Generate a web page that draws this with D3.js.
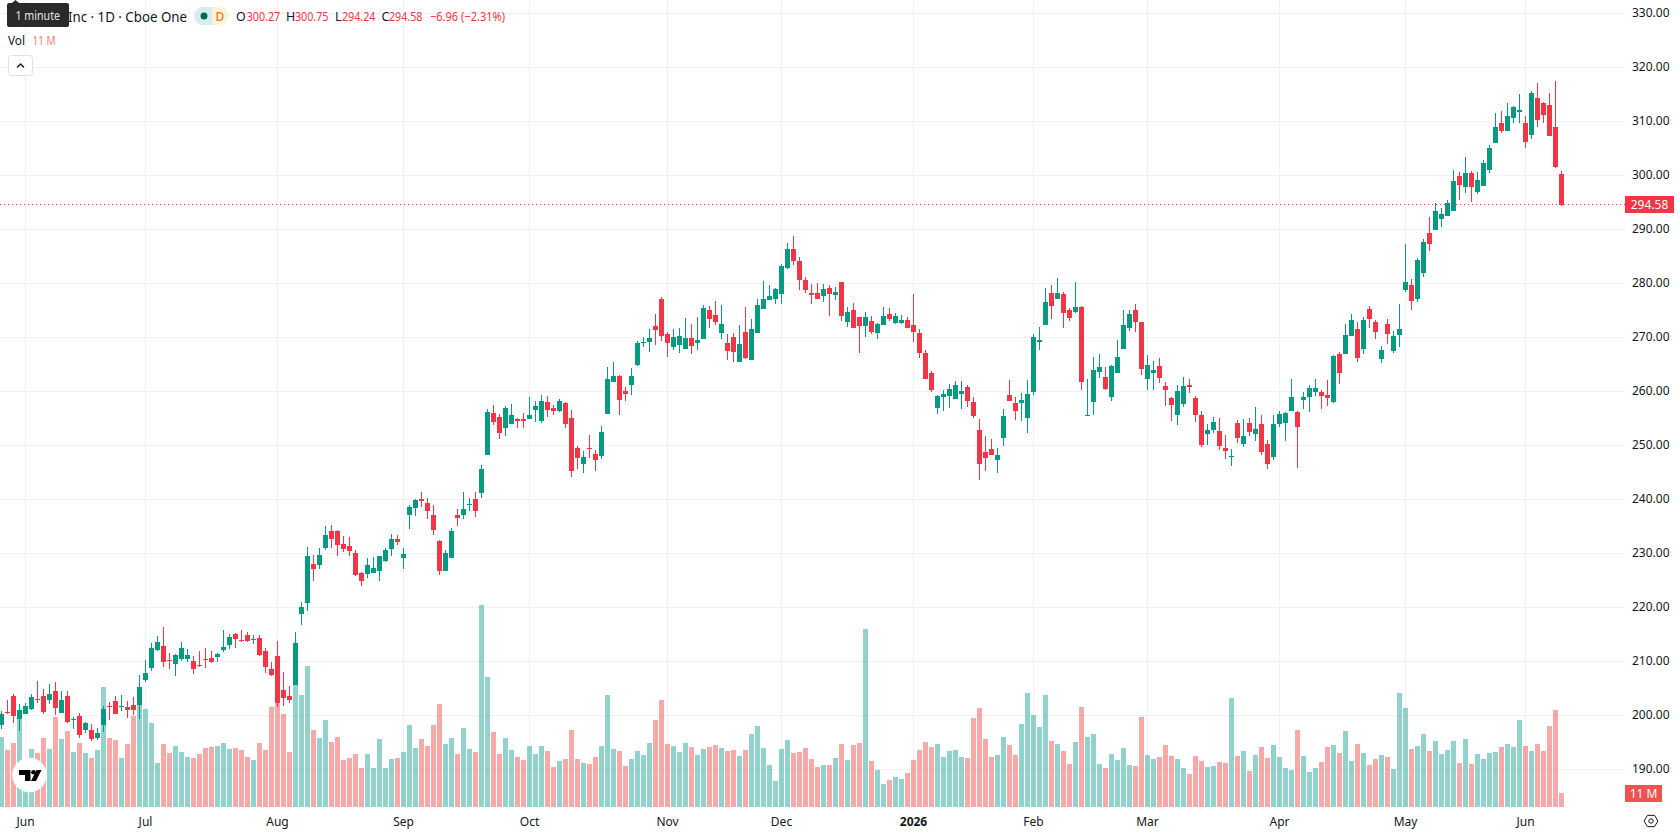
<!DOCTYPE html>
<html>
<head>
<meta charset="utf-8">
<title>1D candles with volume</title>
<script src="https://cdn.jsdelivr.net/npm/d3@7/dist/d3.min.js"></script>
<style>
  html, body { margin: 0; padding: 0; background: #fff; overflow: hidden; }
  svg { display: block; }
  text { font-family: "Noto Sans", "Open Sans", sans-serif; }
</style>
</head>
<body>
<svg id="chart" width="1678" height="835"></svg>
<script>
// Daily sessions, oldest first
const opens = [
198.2,200.7,203.6,199.4,200.2,201.2,203.1,203.6,202.8,204.5,
200.4,203.6,199.1,199.9,197.3,197.3,195.8,198.2,201.7,202.7,
201.5,201.5,201.9,201.9,206.5,208.8,212.1,212.8,210.2,209.5,
210.4,210.4,210.1,209.3,210.4,210.6,210.8,212.1,213.0,215.1,
214.0,214.9,214.0,214.3,211.9,208.6,211.0,204.7,203.6,205.6,
218.8,220.8,228.0,227.8,231.0,234.1,234.1,231.7,231.4,230.1,
226.4,226.2,226.4,226.7,228.6,230.8,232.7,229.1,237.1,238.4,
240.1,239.3,237.1,232.3,226.7,229.1,237.1,237.1,239.0,240.1,
241.2,248.2,256.0,255.2,253.2,254.0,254.9,254.9,254.9,256.5,
254.5,258.0,256.9,256.4,257.8,255.1,249.5,246.5,249.5,248.4,
248.0,255.8,261.7,262.8,260.0,261.2,264.9,268.9,269.2,272.1,
277.1,270.6,268.2,268.6,267.8,269.9,268.9,269.7,275.1,274.1,
270.8,268.9,270.0,265.4,271.0,265.8,270.8,275.2,276.9,277.1,
278.0,282.8,286.4,284.1,280.6,278.2,278.2,277.7,279.1,277.8,
280.2,272.8,275.1,273.8,272.1,273.0,270.8,272.3,274.3,272.7,
272.7,273.2,272.3,270.8,267.1,263.4,256.9,258.9,259.1,258.6,
259.5,260.8,258.0,252.8,248.7,249.3,247.3,251.3,259.3,257.8,
257.8,255.0,259.9,269.1,272.3,278.2,277.1,278.0,275.0,274.7,
275.6,255.6,258.0,263.6,262.6,258.9,263.4,267.8,271.7,275.0,
272.8,262.3,263.4,264.7,261.0,258.7,255.6,257.6,261.2,258.7,
255.6,252.1,252.8,252.6,249.5,247.8,254.1,250.2,254.1,252.1,
254.0,250.3,247.9,254.0,254.1,256.4,256.2,258.4,259.0,259.9,
259.9,259.3,258.0,266.9,266.9,270.3,271.6,267.9,275.3,272.9,
266.0,272.5,267.5,270.4,278.8,279.7,277.0,281.9,289.3,289.9,
291.9,292.5,293.4,299.9,297.8,300.4,296.9,298.0,301.0,306.0,
309.7,308.2,310.6,311.7,309.7,307.5,314.3,313.4,313.0,309.0,
300.27];
const highs = [
200.8,202.8,204.0,202.1,202.2,204.0,206.4,204.9,205.8,206.2,
204.5,204.5,199.7,200.4,198.8,198.4,197.7,201.7,202.5,203.6,
203.8,202.7,203.4,207.5,210.2,213.4,214.7,216.4,211.5,211.4,
213.6,212.3,211.0,211.9,212.5,211.9,211.5,215.8,215.1,215.2,
215.8,215.4,214.9,214.9,212.5,209.9,213.8,208.0,205.4,215.4,
221.0,231.2,229.7,231.0,235.1,235.2,234.3,233.2,233.0,230.6,
226.5,229.1,229.3,229.5,231.0,233.6,233.4,231.0,239.0,240.1,
241.4,240.2,239.0,232.5,230.6,234.7,238.2,241.4,240.2,241.4,
246.4,256.7,257.5,255.8,257.3,257.7,255.1,256.0,258.9,258.2,
259.3,259.1,257.5,258.6,258.0,256.5,249.9,249.0,251.9,249.1,
253.6,264.5,265.4,263.0,260.8,264.3,269.3,270.0,271.5,274.3,
277.5,271.0,271.5,271.7,273.6,272.5,273.8,276.0,275.8,276.7,
276.0,270.6,270.8,272.3,275.6,273.4,277.1,280.4,279.7,279.1,
283.6,287.5,288.8,284.9,281.2,279.9,280.0,279.9,279.7,279.3,
280.2,275.6,276.3,273.8,274.7,274.0,272.7,275.6,275.4,274.5,
274.1,273.8,278.0,271.5,267.6,263.8,259.3,260.2,261.3,261.9,
261.9,261.2,258.9,254.9,251.7,251.2,249.5,256.7,262.1,258.9,
259.7,262.1,270.6,271.9,279.1,279.7,281.0,278.4,275.4,280.2,
275.8,262.3,266.3,266.9,264.5,264.9,269.5,275.0,275.0,276.2,
272.8,266.7,265.6,266.2,261.7,258.9,261.2,262.6,262.3,259.1,
256.3,253.9,255.2,255.0,251.9,249.3,254.7,254.9,255.0,257.1,
255.6,251.0,255.6,256.4,256.2,262.3,256.4,259.9,261.2,262.3,
260.2,262.1,266.7,267.3,272.5,274.3,272.9,273.8,275.8,273.2,
268.4,273.4,271.2,276.2,287.3,280.8,284.7,288.2,292.3,294.9,
294.0,295.4,301.0,300.6,303.4,300.8,300.6,302.8,305.6,311.5,
311.9,313.4,312.8,315.0,311.0,315.6,317.1,313.6,315.3,317.5,
300.75];
const lows = [
197.5,200.2,198.6,197.0,200.2,201.0,202.3,200.2,202.1,200.1,
200.4,198.6,197.5,195.8,196.7,195.2,195.4,196.9,199.1,200.2,
200.8,199.5,200.1,199.3,206.2,208.2,211.9,209.0,208.6,207.3,
210.1,209.9,207.7,209.0,208.8,209.7,209.9,211.7,212.3,212.5,
213.6,213.6,213.2,211.0,207.8,207.3,201.5,201.7,202.3,205.6,
216.7,219.3,224.9,227.1,230.6,231.0,229.5,230.2,229.5,225.8,
224.0,225.4,226.4,224.9,228.4,229.5,231.5,227.1,234.5,236.9,
238.6,236.4,233.4,226.0,226.7,229.1,235.1,236.4,237.8,236.7,
240.2,248.2,253.8,251.2,251.7,254.0,253.2,253.2,254.9,254.3,
254.1,255.2,255.6,256.2,253.2,244.1,245.6,244.9,247.7,245.2,
247.5,255.8,261.7,255.6,258.2,259.3,264.7,268.2,267.3,268.6,
269.3,266.4,267.6,267.1,267.8,266.9,267.6,269.7,271.7,272.3,
269.7,265.8,265.4,265.4,266.0,265.8,270.8,275.2,276.9,276.2,
276.2,282.6,283.4,278.8,278.2,276.2,277.1,276.5,274.0,276.9,
273.0,271.9,271.7,267.1,270.0,270.6,269.7,272.3,273.0,272.5,
272.5,271.7,269.1,266.2,262.3,259.9,255.8,256.3,256.9,258.6,
256.7,257.1,255.0,243.6,245.2,248.2,244.9,249.9,258.2,254.7,
254.5,252.3,259.3,267.7,272.3,273.4,277.1,271.7,273.0,274.5,
260.2,255.6,255.6,262.5,260.2,258.2,263.4,267.8,271.2,271.0,
263.0,260.2,260.2,261.5,257.3,254.5,253.8,257.1,259.7,254.3,
249.7,250.0,252.3,249.1,247.5,246.2,250.4,249.7,251.7,250.8,
248.2,245.6,247.3,253.4,250.8,256.4,245.8,256.7,256.2,259.1,
256.7,257.3,257.9,261.4,266.9,270.3,265.4,266.9,271.7,269.7,
265.3,268.8,267.1,268.2,278.4,275.1,276.6,281.2,286.0,289.9,
290.4,292.5,293.4,295.4,296.7,295.0,296.5,298.0,300.4,306.0,
307.8,308.2,309.7,309.7,305.1,306.7,309.0,309.7,307.3,301.4,
294.24];
const closes = [
200.2,200.4,199.9,201.0,201.7,203.4,202.8,200.6,204.0,201.4,
202.8,198.8,199.4,196.4,198.6,195.6,196.7,201.2,201.5,200.2,
201.7,201.0,201.0,205.2,207.8,212.5,213.6,209.9,210.1,211.2,
212.5,211.2,208.6,209.1,210.2,209.9,211.4,212.7,214.5,214.1,
213.8,213.8,214.1,211.2,209.0,207.5,202.3,203.2,202.8,213.4,
220.1,229.5,227.1,229.7,233.4,232.7,231.5,230.8,230.4,226.0,
224.9,227.8,227.3,229.5,230.6,232.7,232.1,229.9,238.6,239.9,
239.7,237.8,234.3,226.7,230.1,234.1,236.5,238.2,239.1,237.8,
245.6,256.2,254.3,252.3,256.9,255.6,254.5,254.5,255.6,257.3,
258.2,256.5,256.4,258.2,254.0,245.2,247.7,247.8,249.3,247.3,
252.5,262.3,262.8,258.4,259.5,262.8,268.9,269.2,269.9,271.4,
270.2,268.9,270.0,270.2,269.9,268.4,269.5,275.4,273.4,272.8,
272.5,267.5,267.3,268.8,266.2,271.5,276.0,277.1,277.7,278.9,
283.2,286.4,284.1,280.6,278.8,277.8,277.1,278.9,278.0,278.4,
274.0,274.7,271.7,272.1,273.8,271.0,272.5,274.0,273.4,274.0,
273.2,271.7,271.0,267.1,262.3,260.2,259.1,259.5,260.4,261.2,
260.0,258.2,255.4,246.5,247.6,248.2,248.2,255.4,258.2,256.3,
258.4,259.5,270.0,269.5,276.5,275.8,278.2,274.5,273.6,275.6,
261.7,255.6,263.9,264.5,260.4,264.7,266.3,272.3,274.3,272.8,
264.1,264.9,263.9,262.5,260.2,257.5,260.0,261.0,260.8,255.6,
250.0,252.8,254.3,249.9,249.0,248.0,251.3,251.7,252.5,253.0,
248.8,246.6,254.0,255.8,256.0,259.0,253.4,259.0,260.6,260.6,
259.1,258.8,266.5,263.4,270.4,273.2,266.2,273.2,273.4,271.0,
267.7,270.6,270.3,271.6,280.3,276.8,284.3,287.7,287.3,293.4,
292.9,294.9,299.0,298.2,300.4,297.8,299.1,302.3,305.1,309.0,
308.2,311.0,312.6,312.1,306.2,315.3,310.2,311.2,307.3,301.5,
294.58];
// Share volume per session, in millions
const volumes = [
56.0,45.3,50.9,70.7,32.0,46.1,42.9,54.9,46.1,71.7,
54.1,60.5,43.7,50.9,42.9,38.9,45.3,95.7,54.9,53.3,
38.9,50.1,72.5,81.3,78.1,66.9,34.9,50.1,42.9,48.5,
43.7,39.7,38.9,42.1,46.9,47.7,48.5,50.9,46.1,46.9,
45.3,39.7,37.3,50.9,45.3,79.7,82.9,74.1,43.7,97.3,
89.3,112.5,61.3,54.9,69.3,51.7,55.7,37.3,38.9,42.1,
30.9,42.1,30.9,54.1,30.9,38.1,38.9,43.7,65.3,46.9,
54.1,48.5,65.3,82.1,50.1,54.9,42.1,62.9,46.1,43.7,
161.3,103.7,59.7,42.1,54.9,45.3,39.7,37.3,48.5,42.1,
48.5,44.5,31.7,36.5,38.1,61.3,38.1,34.9,34.1,39.7,
48.5,89.3,46.1,44.5,32.5,38.1,44.5,41.3,50.9,69.3,
85.3,50.1,48.5,43.7,50.9,47.7,41.3,46.1,47.7,49.3,
46.9,44.5,45.3,40.5,45.3,58.1,64.5,46.9,33.3,20.5,
46.1,53.3,42.9,43.7,46.9,38.1,31.7,33.3,33.3,38.9,
50.1,37.3,49.3,50.9,142.1,36.5,29.3,18.1,21.3,23.7,
22.1,26.9,37.3,45.3,51.7,47.7,50.1,39.7,44.5,45.3,
39.7,38.9,70.9,78.9,54.1,39.7,41.3,55.7,49.3,41.3,
66.1,90.9,73.3,63.7,89.3,52.5,50.1,44.5,34.1,51.7,
79.7,55.7,58.1,34.1,30.9,42.1,37.3,46.9,33.3,32.5,
71.7,41.3,38.1,39.7,49.3,40.5,38.1,30.9,26.1,40.5,
36.5,31.7,32.5,35.7,34.9,86.9,40.5,44.5,28.5,41.3,
47.7,38.9,49.3,39.7,30.9,29.3,61.3,40.5,27.7,30.9,
35.7,47.7,49.3,42.9,60.5,36.5,50.1,42.9,33.3,38.1,
41.3,39.7,30.1,90.9,78.9,46.1,48.5,58.1,44.5,52.5,
42.1,45.3,52.5,34.9,54.1,34.1,42.1,38.1,42.9,43.7,
47.7,50.1,47.7,69.3,48.5,44.5,50.1,44.5,64.5,77.3,
11];

// Month boundaries on the time axis, as session numbers
const timeTickSessions = [4, 24, 46, 67, 88, 111, 130, 152, 172, 191, 213, 234, 254];
const timeTickLabels = ["Jun", "Jul", "Aug", "Sep", "Oct", "Nov", "Dec", "2026", "Feb", "Mar", "Apr", "May", "Jun"];
const priceTicks = [190, 200, 210, 220, 230, 240, 250, 260, 270, 280, 290, 300, 310, 320, 330];

// Legend readings
const legendPrefix = "Inc · 1D · Cboe One";
const lastChange = "−6.96 (−2.31%)";
const lastPrice = closes[closes.length - 1];
const lastVolume = volumes[volumes.length - 1];

const UP = "#089981", DOWN = "#f23645";
const VOL_UP = "rgba(38,166,154,0.5)", VOL_DOWN = "rgba(239,83,80,0.5)";
const GRID = "#f1f1f3", INK = "#131722";
const paneRight = 1624.5, paneBottom = 807;

const x = d3.scaleLinear().domain([0, opens.length - 1]).range([1.5, 1561.5]);
const y = d3.scaleLinear().domain([190, 330]).range([769.3, 13.3]);
const yVol = d3.scaleLinear().domain([0, 160]).range([806.7, 606.7]);

const sessions = d3.range(opens.length).map(i => ({
  i, o: opens[i], h: highs[i], l: lows[i], c: closes[i], v: volumes[i], up: closes[i] >= opens[i]
}));

const svg = d3.select("#chart");
const snap = v => Math.round(v);
// Hairlines sit on the pixel row holding the scaled price
const rowOf = v => Math.floor(v) + 0.5;

// Grid
const grid = svg.append("g").attr("shape-rendering", "crispEdges").attr("stroke", GRID);
grid.selectAll("line.h").data(priceTicks).join("line").attr("class", "h")
  .attr("x1", 0).attr("x2", paneRight)
  .attr("y1", d => rowOf(y(d))).attr("y2", d => rowOf(y(d)));
grid.selectAll("line.v").data(timeTickSessions).join("line").attr("class", "v")
  .attr("x1", d => x(d)).attr("x2", d => x(d))
  .attr("y1", 0).attr("y2", paneBottom);

// Volume histogram, under the candles
svg.append("g").attr("shape-rendering", "crispEdges")
  .selectAll("rect").data(sessions).join("rect")
  .attr("x", d => x(d.i) - 2.5).attr("width", 5)
  .attr("y", d => snap(yVol(d.v)))
  .attr("height", d => snap(yVol(0)) - snap(yVol(d.v)))
  .attr("fill", d => d.up ? VOL_UP : VOL_DOWN);

// Last price line
svg.append("line")
  .attr("x1", 0).attr("x2", paneRight)
  .attr("y1", rowOf(y(lastPrice))).attr("y2", rowOf(y(lastPrice)))
  .attr("stroke", DOWN).attr("stroke-dasharray", "1 3").attr("shape-rendering", "crispEdges");

// Candles
const candles = svg.append("g").attr("shape-rendering", "crispEdges")
  .selectAll("g").data(sessions).join("g")
  .attr("fill", d => d.up ? UP : DOWN);
candles.append("rect")
  .attr("x", d => x(d.i) - 0.5).attr("width", 1)
  .attr("y", d => snap(y(d.h)))
  .attr("height", d => Math.max(1, snap(y(d.l)) - snap(y(d.h))));
candles.append("rect")
  .attr("x", d => x(d.i) - 2.5).attr("width", 5)
  .attr("y", d => snap(y(Math.max(d.o, d.c))))
  .attr("height", d => Math.max(1, snap(y(Math.min(d.o, d.c))) - snap(y(Math.max(d.o, d.c)))));

// Price axis
const priceAxis = d3.axisRight(y).tickValues(priceTicks).tickSize(0).tickPadding(0).tickFormat(d => d.toFixed(2));
const priceG = svg.append("g").attr("transform", "translate(1632,0)").call(priceAxis);
priceG.select(".domain").remove();
priceG.selectAll("text").attr("font-size", 12).attr("fill", INK).attr("dy", "0.25em").attr("font-family", '"Noto Sans"');

// Time axis
const timeAxis = d3.axisBottom(x).tickValues(timeTickSessions).tickSize(0).tickPadding(0)
  .tickFormat((d, i) => timeTickLabels[i]);
const timeG = svg.append("g").attr("transform", "translate(0,817)").call(timeAxis);
timeG.select(".domain").remove();
timeG.selectAll("text").attr("font-size", 12).attr("fill", INK).attr("dy", "0.71em").attr("x", -0.5)
  .attr("font-family", '"Noto Sans"')
  .attr("font-weight", (d, i) => /^\d{4}$/.test(timeTickLabels[i]) ? 700 : 400);

// Last price and last volume tags
const tag = (top, width, height, fill, label) => {
  svg.append("rect").attr("x", 1625).attr("y", top).attr("width", width).attr("height", height).attr("fill", fill);
  svg.append("text").attr("x", 1625 + width / 2).attr("y", top + height / 2).attr("dy", "0.35em")
    .attr("text-anchor", "middle").attr("font-size", 12).attr("fill", "#fff").text(label);
};
tag(196, 49, 17, DOWN, lastPrice.toFixed(2));
tag(785, 37, 17, "#ef5350", lastVolume + " M");

// Legend text, each run fitted to its slot in the row
const legendText = (label, left, baseline, width, size, fill) =>
  svg.append("text").attr("x", left).attr("y", baseline).attr("font-size", size).attr("fill", fill)
    .attr("textLength", width).attr("lengthAdjust", "spacingAndGlyphs").text(label);

const legendY = 21;
legendText(legendPrefix, 68, 21.5, 119, 15, INK);

svg.append("path").attr("d", "M203 7 H212 V25 H203 a9 9 0 0 1 0 -18 Z").attr("fill", "#d6efea");
svg.append("path").attr("d", "M212 7 H220 a9 9 0 0 1 0 18 H212 Z").attr("fill", "#fff3e0");
svg.append("circle").attr("cx", 204).attr("cy", 16).attr("r", 3.5).attr("fill", "#00695c");
svg.append("text").attr("x", 220).attr("y", 20.5).attr("text-anchor", "middle").attr("font-size", 12)
  .attr("font-weight", 500).attr("fill", "#f57c00").text("D");

const legendPairs = [["O", opens, 236, 246.7], ["H", highs, 286, 295], ["L", lows, 335, 342], ["C", closes, 381.5, 389]];
legendPairs.forEach(([name, series, nameX, valueX]) => {
  svg.append("text").attr("x", nameX).attr("y", legendY).attr("font-size", 12.5).attr("fill", INK).text(name);
  legendText(series[series.length - 1].toFixed(2), valueX, legendY, 33.5, 12.5, DOWN);
});
legendText(lastChange, 430, legendY, 75, 12.5, DOWN);

legendText("Vol", 8, 45, 17, 13, INK);
legendText(lastVolume + " M", 32.5, 45, 23, 13, "#f7787f");

// Collapse button
svg.append("rect").attr("x", 8.5).attr("y", 55.5).attr("width", 24).attr("height", 20).attr("rx", 3)
  .attr("fill", "#fff").attr("stroke", "#dfe1e6");
svg.append("path").attr("d", "M17 67.5 L20.5 64 L24 67.5").attr("fill", "none").attr("stroke", INK).attr("stroke-width", 1.3);

// Tooltip on top of the legend
svg.append("path").attr("d", "M12 3 L15.5 0 L19 3 Z").attr("fill", "#2a2a2a");
svg.append("rect").attr("x", 7).attr("y", 3).attr("width", 62).attr("height", 24).attr("rx", 2).attr("fill", "#2a2a2a");
legendText("1 minute", 15.5, 20, 44.5, 12, "#e4e4e4");

// Settings glyph on the axis corner
const hexagon = d3.range(6).map(k => {
  const a = k * Math.PI / 3;
  return [1651 + 7 * Math.cos(a), 821 + 6.5 * Math.sin(a)];
});
svg.append("path").attr("d", d3.line()(hexagon) + "Z").attr("fill", "none").attr("stroke", INK);
svg.append("circle").attr("cx", 1651).attr("cy", 821).attr("r", 2.2).attr("fill", "none").attr("stroke", INK);

// Logo badge
const logo = svg.append("g");
logo.append("circle").attr("cx", 29.5).attr("cy", 775).attr("r", 17).attr("fill", "#fff")
  .attr("stroke", "rgba(255,255,255,0.6)").attr("stroke-width", 1);
logo.append("path").attr("d", "M19 770 H30.5 V781 H25 V775 H19 Z").attr("fill", "#000");
logo.append("circle").attr("cx", 33.5).attr("cy", 772.3).attr("r", 2.3).attr("fill", "#000");
logo.append("path").attr("d", "M36.5 770 H41.5 L36 781 H31 Z").attr("fill", "#000");
</script>
</body>
</html>
